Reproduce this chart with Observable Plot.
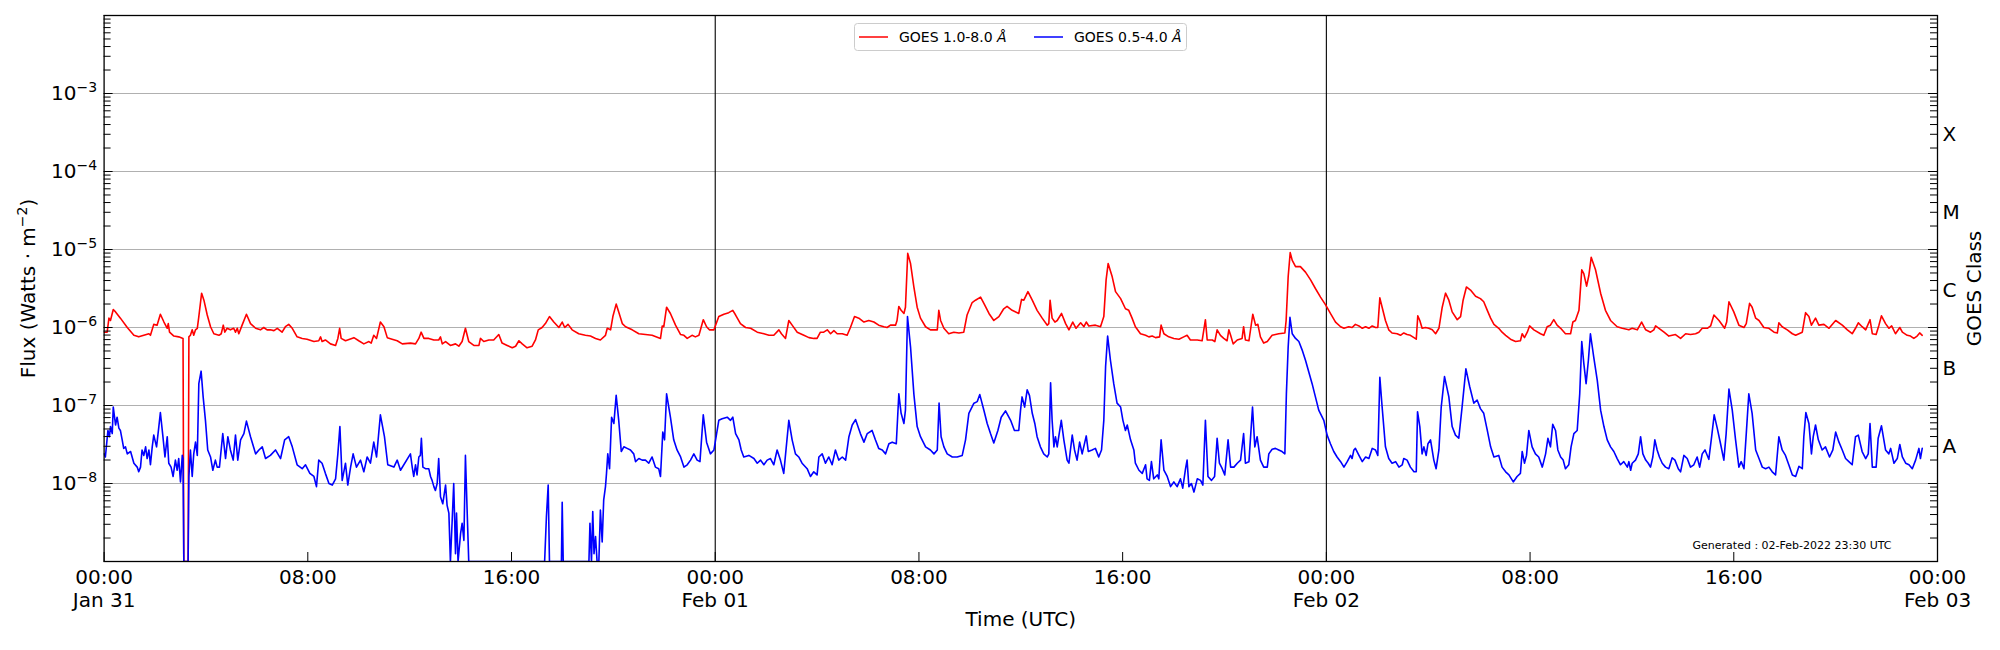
<!DOCTYPE html>
<html><head><meta charset="utf-8">
<script src="https://cdn.jsdelivr.net/npm/d3@7"></script>
<script src="https://cdn.jsdelivr.net/npm/@observablehq/plot@0.6"></script>
<style>body{margin:0;background:#fff;} svg{display:block;}</style>
</head><body><div id="chart"></div>
<script>
// ---- data (hours after 2022-01-31 00:00 UTC, log10 of flux in W/m^2) ----
const startTime = Date.UTC(2022, 0, 31);
const endTime = Date.UTC(2022, 1, 3);
const seriesNames = ["GOES 1.0-8.0 ", "GOES 0.5-4.0 "];
const seriesColors = ["red", "blue"];

const longChannel = [
[0.00,-6.06],[0.12,-6.06],[0.19,-5.88],[0.25,-5.91],[0.36,-5.77],[0.45,-5.80],[0.64,-5.88],[0.91,-6.00],[1.17,-6.10],[1.36,-6.12],
[1.56,-6.10],[1.76,-6.08],[1.82,-6.10],[1.95,-5.96],[2.08,-5.97],[2.21,-5.83],[2.35,-5.93],[2.48,-6.01],[2.52,-5.95],[2.57,-6.06],
[2.74,-6.11],[2.93,-6.12],[3.10,-6.14],[3.13,-9],[3.30,-9],[3.33,-6.12],[3.39,-6.10],[3.46,-6.03],[3.52,-6.10],[3.59,-6.03],
[3.66,-6.01],[3.72,-5.86],[3.83,-5.56],[3.92,-5.65],[4.05,-5.84],[4.18,-5.99],[4.31,-6.08],[4.51,-6.10],[4.60,-6.08],[4.68,-5.97],
[4.74,-6.06],[4.83,-6.01],[4.96,-6.03],[5.09,-6.01],[5.16,-6.06],[5.23,-6.01],[5.29,-6.08],[5.42,-5.97],[5.59,-5.83],[5.75,-5.95],
[5.95,-6.01],[6.14,-6.03],[6.27,-6.00],[6.40,-6.03],[6.53,-6.03],[6.67,-6.04],[6.80,-6.01],[6.99,-6.06],[7.12,-5.99],[7.25,-5.96],
[7.39,-6.01],[7.58,-6.12],[7.78,-6.14],[7.97,-6.15],[8.24,-6.18],[8.43,-6.17],[8.50,-6.12],[8.56,-6.18],[8.69,-6.16],[8.89,-6.21],
[9.09,-6.23],[9.18,-6.14],[9.25,-6.01],[9.31,-6.14],[9.48,-6.17],[9.81,-6.13],[10.00,-6.17],[10.20,-6.21],[10.40,-6.18],[10.49,-6.20],
[10.59,-6.10],[10.70,-6.14],[10.85,-5.93],[10.99,-5.99],[11.12,-6.13],[11.31,-6.15],[11.51,-6.17],[11.71,-6.21],[12.03,-6.20],[12.23,-6.21],
[12.36,-6.14],[12.45,-6.06],[12.56,-6.14],[12.75,-6.14],[12.95,-6.16],[13.14,-6.16],[13.21,-6.12],[13.28,-6.21],[13.41,-6.18],[13.60,-6.23],
[13.80,-6.21],[13.93,-6.24],[14.06,-6.18],[14.19,-6.01],[14.32,-6.18],[14.52,-6.23],[14.72,-6.23],[14.78,-6.14],[14.91,-6.18],[15.11,-6.16],
[15.30,-6.16],[15.50,-6.09],[15.63,-6.20],[15.83,-6.23],[16.03,-6.26],[16.16,-6.24],[16.29,-6.17],[16.42,-6.21],[16.61,-6.26],[16.81,-6.24],
[16.94,-6.16],[17.05,-6.03],[17.20,-6.00],[17.33,-5.95],[17.49,-5.86],[17.66,-5.93],[17.86,-6.00],[17.99,-5.93],[18.09,-6.00],[18.22,-5.96],
[18.38,-6.03],[18.64,-6.08],[18.90,-6.10],[19.10,-6.11],[19.30,-6.14],[19.49,-6.16],[19.69,-6.10],[19.76,-6.01],[19.89,-6.03],[19.98,-5.86],
[20.11,-5.70],[20.21,-5.80],[20.35,-5.95],[20.48,-5.99],[20.74,-6.03],[21.00,-6.08],[21.26,-6.09],[21.52,-6.10],[21.85,-6.14],[21.92,-5.98],
[21.98,-5.99],[22.09,-5.74],[22.24,-5.82],[22.44,-5.97],[22.64,-6.09],[22.77,-6.10],[22.90,-6.14],[23.09,-6.10],[23.22,-6.12],[23.36,-6.10],
[23.53,-5.90],[23.66,-5.99],[23.77,-6.03],[23.95,-6.03],[24.14,-5.86],[24.34,-5.83],[24.53,-5.81],[24.69,-5.78],[24.80,-5.84],[24.99,-5.95],
[25.19,-6.00],[25.39,-6.01],[25.65,-6.06],[25.91,-6.08],[26.11,-6.10],[26.30,-6.10],[26.50,-6.03],[26.60,-6.08],[26.76,-6.14],[26.89,-5.91],
[27.02,-5.97],[27.22,-6.06],[27.48,-6.10],[27.68,-6.13],[27.87,-6.14],[28.00,-6.14],[28.13,-6.06],[28.26,-6.06],[28.40,-6.03],[28.53,-6.08],
[28.66,-6.04],[28.79,-6.08],[28.99,-6.08],[29.18,-6.10],[29.31,-6.00],[29.47,-5.86],[29.64,-5.88],[29.84,-5.93],[30.03,-5.91],[30.23,-5.93],
[30.42,-5.97],[30.62,-5.99],[30.75,-6.00],[30.88,-5.97],[31.08,-5.97],[31.14,-5.91],[31.21,-5.73],[31.30,-5.78],[31.41,-5.82],[31.47,-5.74],
[31.56,-5.05],[31.67,-5.18],[31.80,-5.48],[31.93,-5.74],[32.06,-5.88],[32.26,-5.99],[32.45,-6.03],[32.72,-6.03],[32.78,-5.78],[32.85,-5.91],
[32.98,-6.01],[33.17,-6.08],[33.37,-6.06],[33.57,-6.07],[33.76,-6.06],[33.89,-5.84],[34.09,-5.68],[34.22,-5.65],[34.42,-5.61],[34.55,-5.69],
[34.75,-5.82],[34.94,-5.91],[35.14,-5.86],[35.33,-5.76],[35.46,-5.73],[35.66,-5.78],[35.92,-5.82],[36.03,-5.64],[36.12,-5.65],[36.28,-5.54],
[36.45,-5.65],[36.64,-5.78],[36.84,-5.88],[37.04,-5.97],[37.10,-5.95],[37.15,-5.65],[37.23,-5.88],[37.34,-5.93],[37.43,-5.91],[37.60,-5.82],
[37.76,-5.95],[37.89,-6.03],[38.04,-5.93],[38.17,-6.01],[38.35,-5.94],[38.48,-5.99],[38.57,-5.93],[38.67,-5.98],[38.93,-5.97],[39.13,-5.99],
[39.26,-5.86],[39.35,-5.39],[39.43,-5.18],[39.59,-5.35],[39.72,-5.54],[39.92,-5.63],[40.11,-5.76],[40.24,-5.78],[40.37,-5.88],[40.50,-5.99],
[40.70,-6.08],[40.90,-6.10],[41.03,-6.12],[41.16,-6.11],[41.29,-6.13],[41.45,-6.12],[41.51,-5.97],[41.62,-6.08],[41.81,-6.12],[42.01,-6.14],
[42.21,-6.15],[42.40,-6.12],[42.53,-6.10],[42.66,-6.16],[42.93,-6.16],[43.12,-6.17],[43.25,-5.90],[43.32,-6.16],[43.52,-6.16],[43.62,-6.18],
[43.71,-6.03],[43.84,-6.10],[43.97,-6.14],[44.10,-6.17],[44.17,-6.03],[44.24,-6.10],[44.34,-6.21],[44.50,-6.16],[44.69,-6.14],[44.75,-5.99],
[44.82,-6.16],[44.96,-6.17],[45.11,-5.83],[45.22,-5.97],[45.31,-5.96],[45.41,-6.12],[45.54,-6.20],[45.68,-6.18],[45.87,-6.10],[46.13,-6.08],
[46.37,-6.07],[46.42,-5.91],[46.50,-5.35],[46.58,-5.04],[46.66,-5.14],[46.79,-5.22],[46.98,-5.22],[47.18,-5.29],[47.38,-5.39],[47.57,-5.50],
[47.77,-5.61],[47.97,-5.71],[48.16,-5.82],[48.36,-5.93],[48.56,-5.99],[48.69,-6.01],[48.88,-5.99],[49.01,-6.00],[49.14,-5.96],[49.28,-5.98],
[49.41,-6.01],[49.54,-5.99],[49.67,-6.01],[49.80,-5.98],[49.93,-6.00],[50.02,-6.00],[50.10,-5.62],[50.19,-5.74],[50.32,-5.91],[50.45,-6.03],
[50.58,-6.07],[50.78,-6.08],[50.91,-6.10],[51.04,-6.07],[51.17,-6.09],[51.30,-6.10],[51.44,-6.13],[51.53,-6.15],[51.59,-5.85],[51.67,-5.91],
[51.76,-6.01],[51.89,-6.00],[52.02,-6.01],[52.16,-6.03],[52.29,-6.08],[52.42,-6.01],[52.55,-5.74],[52.68,-5.56],[52.81,-5.65],[52.94,-5.80],
[53.14,-5.90],[53.27,-5.86],[53.37,-5.65],[53.50,-5.48],[53.66,-5.52],[53.86,-5.60],[54.05,-5.63],[54.18,-5.67],[54.32,-5.78],[54.45,-5.88],
[54.58,-5.96],[54.77,-6.01],[54.90,-6.06],[55.04,-6.10],[55.23,-6.15],[55.43,-6.18],[55.62,-6.17],[55.69,-6.08],[55.78,-6.13],[55.89,-6.06],
[55.98,-5.98],[56.15,-6.03],[56.41,-6.08],[56.54,-6.10],[56.67,-5.99],[56.80,-5.97],[56.93,-5.90],[57.06,-5.97],[57.20,-6.01],[57.39,-6.08],
[57.59,-6.08],[57.68,-5.93],[57.78,-5.91],[57.92,-5.78],[58.03,-5.26],[58.11,-5.31],[58.22,-5.47],[58.31,-5.33],[58.40,-5.10],[58.57,-5.26],
[58.77,-5.56],[58.96,-5.78],[59.16,-5.91],[59.42,-5.99],[59.62,-6.01],[59.88,-6.03],[60.01,-6.01],[60.21,-6.03],[60.38,-5.93],[60.54,-6.03],
[60.73,-6.06],[60.86,-6.03],[60.93,-5.98],[61.06,-6.01],[61.26,-6.06],[61.45,-6.11],[61.58,-6.10],[61.71,-6.09],[61.91,-6.14],[62.11,-6.08],
[62.30,-6.09],[62.50,-6.08],[62.63,-6.06],[62.76,-6.01],[62.96,-6.01],[63.09,-5.98],[63.22,-5.84],[63.42,-5.91],[63.64,-6.01],[63.72,-5.93],
[63.81,-5.67],[64.00,-5.80],[64.20,-5.97],[64.40,-6.00],[64.49,-5.95],[64.62,-5.69],[64.72,-5.74],[64.86,-5.88],[64.99,-5.91],[65.18,-6.00],
[65.38,-6.01],[65.58,-6.06],[65.71,-6.07],[65.77,-5.94],[65.90,-5.99],[66.10,-6.03],[66.30,-6.08],[66.43,-6.10],[66.69,-6.06],[66.82,-5.81],
[66.95,-5.86],[67.05,-5.97],[67.21,-5.88],[67.34,-5.97],[67.54,-5.96],[67.74,-6.01],[68.00,-5.91],[68.26,-5.97],[68.46,-6.03],[68.65,-6.08],
[68.78,-6.01],[68.89,-5.94],[69.04,-5.99],[69.18,-6.03],[69.35,-5.90],[69.44,-6.08],[69.59,-6.09],[69.70,-5.97],[69.80,-5.85],[69.96,-5.95],
[70.09,-6.01],[70.20,-5.98],[70.35,-6.08],[70.52,-6.00],[70.62,-6.06],[70.81,-6.10],[70.94,-6.11],[71.07,-6.14],[71.20,-6.11],[71.30,-6.07],
[71.40,-6.10]
];

const shortChannel = [
[0.00,-7.62],[0.05,-7.66],[0.15,-7.32],[0.21,-7.40],[0.25,-7.27],[0.32,-7.36],[0.36,-7.02],[0.45,-7.25],[0.51,-7.15],[0.58,-7.29],
[0.64,-7.32],[0.71,-7.44],[0.77,-7.55],[0.84,-7.53],[0.91,-7.62],[1.04,-7.59],[1.17,-7.74],[1.30,-7.79],[1.36,-7.85],[1.43,-7.79],
[1.49,-7.57],[1.56,-7.64],[1.63,-7.53],[1.69,-7.68],[1.76,-7.57],[1.82,-7.76],[1.89,-7.53],[1.95,-7.38],[2.06,-7.53],[2.15,-7.27],
[2.21,-7.09],[2.31,-7.40],[2.39,-7.66],[2.48,-7.40],[2.54,-7.74],[2.63,-7.79],[2.71,-7.91],[2.80,-7.70],[2.87,-7.83],[2.93,-7.68],
[3.00,-7.98],[3.07,-7.64],[3.10,-7.68],[3.13,-9],[3.30,-9],[3.33,-7.91],[3.39,-7.57],[3.46,-7.91],[3.52,-7.62],[3.59,-7.47],
[3.66,-7.64],[3.72,-6.72],[3.81,-6.56],[3.89,-6.89],[3.98,-7.19],[4.07,-7.57],[4.18,-7.66],[4.27,-7.83],[4.37,-7.70],[4.44,-7.79],
[4.53,-7.79],[4.66,-7.36],[4.77,-7.68],[4.86,-7.40],[4.96,-7.57],[5.07,-7.70],[5.16,-7.38],[5.25,-7.70],[5.36,-7.44],[5.49,-7.36],
[5.59,-7.20],[5.75,-7.40],[5.95,-7.62],[6.08,-7.57],[6.21,-7.53],[6.34,-7.68],[6.53,-7.64],[6.73,-7.57],[6.93,-7.68],[7.09,-7.44],
[7.25,-7.40],[7.39,-7.53],[7.58,-7.76],[7.78,-7.81],[7.91,-7.76],[8.08,-7.87],[8.24,-7.91],[8.34,-8.04],[8.43,-7.70],[8.56,-7.74],
[8.69,-7.87],[8.83,-8.00],[8.96,-8.02],[9.09,-7.94],[9.18,-7.62],[9.26,-7.27],[9.35,-7.96],[9.48,-7.74],[9.57,-8.02],[9.68,-7.79],
[9.78,-7.62],[9.91,-7.79],[10.07,-7.70],[10.20,-7.85],[10.33,-7.66],[10.46,-7.74],[10.59,-7.47],[10.70,-7.66],[10.85,-7.12],[11.01,-7.40],
[11.14,-7.76],[11.38,-7.79],[11.51,-7.70],[11.64,-7.83],[12.03,-7.62],[12.10,-7.79],[12.16,-7.91],[12.23,-7.76],[12.29,-7.89],[12.36,-7.66],
[12.42,-7.64],[12.46,-7.42],[12.52,-7.79],[12.62,-7.81],[12.75,-7.81],[12.82,-7.91],[12.88,-7.96],[12.95,-8.04],[13.01,-8.09],[13.08,-8.00],
[13.14,-7.68],[13.21,-8.17],[13.30,-8.26],[13.41,-8.02],[13.47,-8.28],[13.54,-8.38],[13.60,-9],[13.67,-8.47],[13.73,-8.00],[13.80,-8.90],
[13.84,-8.38],[13.90,-9],[14.00,-8.64],[14.06,-8.51],[14.13,-8.73],[14.19,-7.64],[14.26,-8.38],[14.32,-9],[17.30,-9],[17.37,-8.43],
[17.44,-8.02],[17.49,-9],[17.96,-9],[17.99,-8.24],[18.03,-9],[19.04,-9],[19.08,-8.51],[19.14,-9],[19.19,-8.36],[19.24,-8.90],
[19.30,-8.68],[19.36,-9],[19.43,-9],[19.49,-8.34],[19.56,-8.75],[19.62,-8.21],[19.69,-8.04],[19.73,-7.87],[19.78,-7.62],[19.85,-7.81],
[19.93,-7.15],[20.02,-7.23],[20.11,-6.87],[20.21,-7.19],[20.31,-7.59],[20.41,-7.53],[20.54,-7.55],[20.67,-7.57],[20.80,-7.62],[20.87,-7.72],
[21.00,-7.68],[21.13,-7.70],[21.26,-7.70],[21.39,-7.74],[21.52,-7.66],[21.65,-7.79],[21.78,-7.81],[21.85,-7.91],[21.94,-7.34],[22.01,-7.44],
[22.09,-6.85],[22.24,-7.15],[22.37,-7.44],[22.50,-7.57],[22.64,-7.66],[22.77,-7.79],[22.90,-7.76],[23.03,-7.70],[23.16,-7.62],[23.29,-7.70],
[23.40,-7.72],[23.53,-7.12],[23.66,-7.47],[23.81,-7.62],[23.95,-7.57],[24.14,-7.19],[24.27,-7.17],[24.47,-7.15],[24.60,-7.19],[24.69,-7.15],
[24.80,-7.36],[24.93,-7.44],[25.02,-7.57],[25.12,-7.66],[25.32,-7.64],[25.52,-7.68],[25.65,-7.74],[25.78,-7.70],[25.91,-7.76],[26.04,-7.70],
[26.17,-7.68],[26.30,-7.76],[26.43,-7.57],[26.56,-7.70],[26.69,-7.87],[26.89,-7.19],[27.02,-7.44],[27.15,-7.62],[27.28,-7.66],[27.41,-7.74],
[27.61,-7.81],[27.74,-7.91],[27.87,-7.85],[28.00,-7.89],[28.07,-7.66],[28.20,-7.62],[28.33,-7.74],[28.46,-7.66],[28.59,-7.76],[28.72,-7.57],
[28.85,-7.70],[28.99,-7.66],[29.12,-7.70],[29.25,-7.40],[29.38,-7.25],[29.51,-7.18],[29.70,-7.36],[29.84,-7.47],[29.97,-7.36],[30.16,-7.32],
[30.29,-7.44],[30.42,-7.55],[30.56,-7.57],[30.69,-7.62],[30.82,-7.49],[30.95,-7.47],[31.11,-7.49],[31.21,-6.85],[31.30,-7.10],[31.41,-7.23],
[31.47,-7.06],[31.55,-5.86],[31.67,-6.25],[31.80,-6.85],[31.93,-7.27],[32.06,-7.40],[32.26,-7.53],[32.45,-7.57],[32.59,-7.62],[32.72,-7.57],
[32.79,-6.97],[32.87,-7.40],[32.98,-7.53],[33.11,-7.62],[33.31,-7.66],[33.50,-7.66],[33.70,-7.64],[33.83,-7.44],[33.96,-7.10],[34.16,-6.97],
[34.29,-6.95],[34.39,-6.86],[34.55,-7.06],[34.68,-7.23],[34.81,-7.36],[34.94,-7.48],[35.10,-7.32],[35.23,-7.15],[35.40,-7.07],[35.60,-7.19],
[35.75,-7.32],[35.92,-7.32],[35.99,-7.06],[36.05,-6.89],[36.15,-7.02],[36.25,-6.80],[36.34,-6.87],[36.45,-7.10],[36.55,-7.23],[36.64,-7.40],
[36.77,-7.53],[36.90,-7.62],[37.04,-7.66],[37.10,-7.62],[37.17,-6.71],[37.23,-7.19],[37.30,-7.53],[37.36,-7.40],[37.43,-7.53],[37.49,-7.40],
[37.59,-7.19],[37.69,-7.44],[37.82,-7.70],[37.89,-7.74],[37.95,-7.57],[38.02,-7.38],[38.11,-7.57],[38.21,-7.70],[38.31,-7.47],[38.41,-7.62],
[38.57,-7.39],[38.65,-7.59],[38.80,-7.57],[38.93,-7.55],[39.06,-7.66],[39.17,-7.57],[39.26,-7.19],[39.33,-6.50],[39.41,-6.11],[39.52,-6.42],
[39.65,-6.72],[39.78,-6.97],[39.92,-7.02],[40.01,-7.19],[40.11,-7.32],[40.18,-7.25],[40.31,-7.44],[40.44,-7.57],[40.50,-7.74],[40.64,-7.83],
[40.77,-7.87],[40.90,-7.76],[40.96,-7.94],[41.05,-7.96],[41.13,-7.72],[41.22,-7.94],[41.36,-7.89],[41.42,-7.94],[41.51,-7.44],[41.62,-7.83],
[41.75,-7.91],[41.88,-8.04],[42.01,-7.98],[42.14,-8.04],[42.27,-7.94],[42.36,-8.06],[42.47,-7.81],[42.53,-7.70],[42.60,-8.04],[42.70,-8.00],
[42.80,-8.11],[42.93,-7.94],[43.06,-7.96],[43.15,-8.02],[43.25,-7.19],[43.35,-7.91],[43.49,-7.96],[43.61,-7.91],[43.71,-7.42],[43.80,-7.74],
[43.91,-7.81],[44.01,-7.89],[44.14,-7.44],[44.24,-7.79],[44.37,-7.79],[44.50,-7.74],[44.63,-7.70],[44.75,-7.36],[44.82,-7.74],[44.96,-7.72],
[45.10,-7.02],[45.19,-7.53],[45.28,-7.40],[45.41,-7.70],[45.54,-7.79],[45.68,-7.79],[45.74,-7.62],[45.87,-7.56],[46.00,-7.55],[46.13,-7.57],
[46.26,-7.59],[46.37,-7.62],[46.43,-6.85],[46.50,-6.25],[46.57,-5.87],[46.66,-6.08],[46.79,-6.14],[46.92,-6.18],[47.05,-6.29],[47.18,-6.42],
[47.31,-6.57],[47.44,-6.72],[47.57,-6.89],[47.70,-7.06],[47.90,-7.19],[48.03,-7.38],[48.16,-7.49],[48.29,-7.59],[48.42,-7.66],[48.56,-7.72],
[48.69,-7.79],[48.82,-7.72],[48.95,-7.64],[49.01,-7.68],[49.08,-7.57],[49.14,-7.55],[49.28,-7.64],[49.41,-7.72],[49.54,-7.66],[49.67,-7.68],
[49.80,-7.55],[49.93,-7.57],[50.02,-7.64],[50.10,-6.64],[50.19,-7.02],[50.32,-7.53],[50.45,-7.68],[50.58,-7.74],[50.72,-7.72],[50.85,-7.79],
[50.98,-7.76],[51.04,-7.68],[51.17,-7.70],[51.30,-7.79],[51.44,-7.85],[51.53,-7.85],[51.58,-7.08],[51.67,-7.27],[51.76,-7.62],[51.83,-7.53],
[51.92,-7.64],[51.99,-7.49],[52.09,-7.44],[52.22,-7.70],[52.31,-7.81],[52.42,-7.57],[52.51,-7.02],[52.64,-6.63],[52.81,-6.89],[52.94,-7.27],
[53.07,-7.38],[53.20,-7.42],[53.33,-7.02],[53.48,-6.53],[53.63,-6.76],[53.79,-6.97],[53.92,-6.93],[54.05,-7.04],[54.18,-7.10],[54.32,-7.32],
[54.45,-7.53],[54.58,-7.66],[54.77,-7.64],[54.90,-7.79],[55.04,-7.85],[55.17,-7.89],[55.34,-7.98],[55.49,-7.91],[55.62,-7.87],[55.69,-7.59],
[55.78,-7.74],[55.86,-7.64],[55.95,-7.32],[56.08,-7.53],[56.21,-7.62],[56.34,-7.66],[56.48,-7.79],[56.61,-7.62],[56.70,-7.42],[56.80,-7.53],
[56.89,-7.24],[57.00,-7.32],[57.09,-7.57],[57.20,-7.66],[57.30,-7.70],[57.39,-7.81],[57.52,-7.76],[57.61,-7.53],[57.72,-7.36],[57.85,-7.32],
[57.95,-6.85],[58.03,-6.18],[58.11,-6.46],[58.20,-6.72],[58.29,-6.42],[58.37,-6.08],[58.50,-6.38],[58.64,-6.68],[58.77,-7.06],[58.90,-7.27],
[59.03,-7.44],[59.16,-7.53],[59.29,-7.59],[59.42,-7.68],[59.55,-7.76],[59.68,-7.72],[59.82,-7.79],[59.88,-7.72],[59.95,-7.83],[60.01,-7.74],
[60.14,-7.70],[60.25,-7.62],[60.34,-7.40],[60.43,-7.62],[60.54,-7.70],[60.64,-7.74],[60.73,-7.79],[60.82,-7.66],[60.90,-7.44],[60.99,-7.57],
[61.08,-7.66],[61.19,-7.74],[61.32,-7.79],[61.45,-7.81],[61.58,-7.67],[61.69,-7.70],[61.82,-7.81],[61.91,-7.85],[62.04,-7.64],[62.17,-7.68],
[62.30,-7.79],[62.43,-7.76],[62.56,-7.66],[62.66,-7.79],[62.76,-7.62],[62.87,-7.57],[63.02,-7.69],[63.13,-7.40],[63.23,-7.12],[63.35,-7.29],
[63.48,-7.49],[63.61,-7.70],[63.70,-7.36],[63.81,-6.79],[63.94,-7.06],[64.07,-7.44],[64.20,-7.79],[64.29,-7.72],[64.40,-7.81],[64.49,-7.36],
[64.59,-6.85],[64.72,-7.10],[64.86,-7.57],[64.99,-7.68],[65.12,-7.79],[65.25,-7.81],[65.38,-7.79],[65.51,-7.85],[65.64,-7.89],[65.77,-7.40],
[65.90,-7.57],[66.03,-7.64],[66.16,-7.76],[66.30,-7.89],[66.43,-7.91],[66.56,-7.78],[66.69,-7.81],[66.75,-7.40],[66.83,-7.09],[66.95,-7.23],
[67.05,-7.62],[67.12,-7.40],[67.21,-7.25],[67.32,-7.44],[67.47,-7.57],[67.60,-7.53],[67.76,-7.66],[67.89,-7.57],[68.00,-7.34],[68.13,-7.47],
[68.26,-7.57],[68.39,-7.68],[68.52,-7.72],[68.65,-7.76],[68.78,-7.40],[68.89,-7.38],[69.04,-7.59],[69.18,-7.68],[69.28,-7.62],[69.35,-7.23],
[69.44,-7.79],[69.59,-7.79],[69.67,-7.42],[69.80,-7.26],[69.96,-7.57],[70.09,-7.62],[70.16,-7.55],[70.29,-7.74],[70.42,-7.68],[70.52,-7.50],
[70.62,-7.66],[70.75,-7.74],[70.88,-7.76],[71.01,-7.81],[71.14,-7.70],[71.27,-7.55],[71.33,-7.68],[71.40,-7.55]
];

const xTickHours = [0, 8, 16, 24, 32, 40, 48, 56, 64, 72];
const xTickLabels = ["00:00\nJan 31", "08:00", "16:00", "00:00\nFeb 01", "08:00", "16:00", "00:00\nFeb 02", "08:00", "16:00", "00:00\nFeb 03"];
const dayBoundaryHours = [24, 48];
const yMajorExps = [-9, -8, -7, -6, -5, -4, -3, -2];
const yLabelExps = [-8, -7, -6, -5, -4, -3];
const classLetters = ["A", "B", "C", "M", "X"];
const classExps = [-7.5, -6.5, -5.5, -4.5, -3.5];
const yTitle = "Flux (Watts \u00B7 m^\u22122)";
const xTitle = "Time (UTC)";
const rightTitle = "GOES Class";
const generatedNote = "Generated : 02-Feb-2022 23:30 UTC";

// ---- build ----
const toDate = h => new Date(startTime + h * 3600000);
const longData = longChannel.map(([h, l]) => ({t: toDate(h), flux: Math.pow(10, l)}));
const shortData = shortChannel.map(([h, l]) => ({t: toDate(h), flux: Math.pow(10, l)}));
const xTicks = xTickHours.map(toDate);
const majorTicks = yMajorExps.map(e => Math.pow(10, e));
const minorTicks = [];
for (let e = -9; e <= -3; e++) for (let k = 2; k <= 9; k++) minorTicks.push(k * Math.pow(10, e));
const labelTicks = yLabelExps.map(e => Math.pow(10, e));
const classTicks = classExps.map(e => Math.pow(10, e));

const W = 2000, H = 650, ML = 103.6, MR = 63, MT = 15, MB = 89;
const FW = W - ML - MR, FH = H - MT - MB;
const MAJOR = 9, MINOR = 7;
const tickStyle = {stroke: "black", strokeWidth: 1};
const chart = Plot.plot({
  width: W, height: H,
  marginLeft: ML, marginRight: MR, marginTop: MT, marginBottom: MB,
  style: {fontFamily: "DejaVu Sans", fontSize: "20px", background: "white", color: "black", overflow: "visible"},
  x: {type: "utc", domain: [new Date(startTime), new Date(endTime)], axis: null},
  y: {type: "log", domain: [1e-9, 1e-2], axis: null},
  marks: [
    Plot.ruleY(labelTicks, {stroke: "#b0b0b0", strokeWidth: 1}),
    Plot.ruleX(dayBoundaryHours.map(toDate), {stroke: "black", strokeWidth: 1.1}),
    Plot.line(longData, {x: "t", y: "flux", stroke: seriesColors[0], strokeWidth: 1.6, clip: true}),
    Plot.line(shortData, {x: "t", y: "flux", stroke: seriesColors[1], strokeWidth: 1.6, clip: true}),
    Plot.frame({stroke: "black", strokeWidth: 1.3}),
    // inward ticks
    Plot.tickX(xTicks, {x: d => d, insetTop: FH - MAJOR, ...tickStyle}),
    Plot.tickY(majorTicks, {y: d => d, insetRight: FW - MAJOR, ...tickStyle}),
    Plot.tickY(minorTicks, {y: d => d, insetRight: FW - MINOR, ...tickStyle}),
    Plot.tickY(majorTicks, {y: d => d, insetLeft: FW - MAJOR, ...tickStyle}),
    Plot.tickY(minorTicks, {y: d => d, insetLeft: FW - MINOR, ...tickStyle}),
    // tick labels
    Plot.text(xTicks, {x: d => d, text: (d, i) => xTickLabels[i], frameAnchor: "bottom", lineAnchor: "top", dy: 6, lineHeight: 1.15, fontSize: 20}),
    Plot.text(labelTicks, {y: d => d, text: (d, i) => "10^\u2212" + (-yLabelExps[i]), frameAnchor: "left", textAnchor: "end", dx: -7, fontSize: 20}),
    Plot.text(classTicks, {y: d => d, text: (d, i) => classLetters[i], frameAnchor: "right", textAnchor: "start", dx: 5, dy: 2, fontSize: 20}),
    // titles
    Plot.text([yTitle], {text: d => d, frameAnchor: "left", textAnchor: "middle", dx: -76, rotate: -90, fontSize: 20}),
    Plot.text([rightTitle], {text: d => d, frameAnchor: "right", textAnchor: "middle", dx: 37, rotate: -90, fontSize: 20}),
    Plot.text([xTitle], {text: d => d, frameAnchor: "bottom", dy: 64, fontSize: 20}),
    Plot.text([generatedNote], {text: d => d, frameAnchor: "bottom-right", dx: -46, dy: -13, textAnchor: "end", fontSize: 11})
  ]
});
document.getElementById("chart").appendChild(chart);

const svg = d3.select(chart);
// superscripts: "base^exp" -> base + raised, smaller exponent
svg.selectAll("text").each(function () {
  const s = this.textContent;
  const k = s.indexOf("^");
  if (k < 0) return;
  const m = s.slice(k + 1).match(/^[\u2212\-0-9]+/);
  const exp = m[0];
  const rest = s.slice(k + 1 + exp.length);
  const el = d3.select(this);
  el.text(null);
  el.append("tspan").text(s.slice(0, k));
  el.append("tspan").attr("dy", -7.5).attr("font-size", "70%").text(exp);
  if (rest) el.append("tspan").attr("dy", 7.5).text(rest);
});

// ---- legend (inside the plot, top centre) ----
const lg = svg.append("g").attr("font-family", "DejaVu Sans").attr("font-size", 14).attr("text-anchor", "start");
lg.append("rect").attr("x", 854.5).attr("y", 23.5).attr("width", 332).attr("height", 27).attr("rx", 3)
  .attr("fill", "white").attr("fill-opacity", 0.8).attr("stroke", "#cccccc");
const legendX = [859, 1034];
seriesNames.forEach((name, i) => {
  lg.append("line").attr("x1", legendX[i]).attr("x2", legendX[i] + 29).attr("y1", 37).attr("y2", 37)
    .attr("stroke", seriesColors[i]).attr("stroke-width", 1.5);
  const t = lg.append("text").attr("x", legendX[i] + 40).attr("y", 37).attr("dy", "0.35em")
    .attr("fill", "black").attr("text-anchor", "start");
  t.append("tspan").text(name);
  t.append("tspan").attr("font-style", "italic").text("\u00C5");
});
</script>
</body></html>
